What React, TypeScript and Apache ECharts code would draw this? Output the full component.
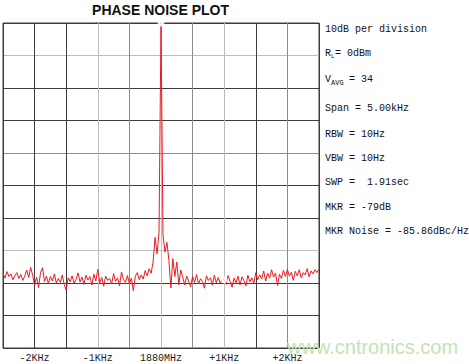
import React, { useEffect, useRef } from "react";
import * as echarts from "echarts";

// Frequency offset axis (kHz) and level axis (dB)
const freqMinKHz = -2.5;
const freqMaxKHz = 2.5;
const levelMinDb = -100;
const levelMaxDb = 0;

const tickValuesKHz = [-2, -1, 0, 1, 2];
const tickLabels = ["-2KHz", "-1KHz", "1880MHz", "+1KHz", "+2KHz"];

// Trace: levels sampled every traceStepKHz from traceStartKHz
const traceStartKHz = -2.5;
const traceStepKHz = 0.03125;
const traceLevelsDb = [
  // 0-15
  -77.0, -78.5, -76.5, -78.0, -77.2, -79.0, -77.8, -76.8, -78.6, -77.4, -79.2, -77.9, -76.0, -78.3, -75.2, -77.6,
  // 16-31
  -80.8, -78.2, -81.4, -76.8, -75.3, -79.5, -77.9, -80.2, -78.0, -79.4, -77.2, -80.0, -78.6, -79.8, -77.5, -80.5,
  // 32-47
  -82.2, -78.4, -79.6, -77.8, -80.1, -78.9, -76.9, -79.7, -78.2, -80.4, -77.6, -79.1, -78.0, -80.6, -77.3, -79.4,
  // 48-63
  -75.8, -79.9, -78.3, -81.0, -77.9, -79.2, -78.6, -80.3, -77.1, -79.5, -78.4, -80.8, -76.6, -78.9, -79.8, -77.7,
  // 64-75
  -80.2, -78.5, -82.4, -77.9, -76.8, -79.0, -77.5, -78.8, -76.2, -77.8, -75.6, -77.0,
  // 76-90 (carrier)
  -73.5, -66.0, -71.0, -64.5, 0, -65.0, -70.5, -67.5, -73.0, -81.5, -72.5, -78.0, -73.5, -80.5, -76.0,
  // 91-111
  -78.2, -80.6, -77.9, -79.4, -81.2, -78.0, -79.8, -77.4, -80.3, -78.7, -79.5, -81.6, -77.8, -79.2, -78.4, -80.7, -77.6, -79.9, -78.3, -80.1, -78.8,
  // 112
  -79.0,
  // 113-127
  -80.4, -77.7, -79.6, -81.3, -78.5, -79.9, -77.9, -80.6, -78.1, -79.3, -80.9, -77.6, -79.7, -78.4, -80.2,
  // 128-143
  -76.8, -79.0, -77.5, -78.8, -76.3, -79.4, -77.0, -78.5, -75.9, -78.2, -76.9, -80.8, -77.3, -78.6, -76.1, -78.0,
  // 144-160
  -75.8, -77.9, -76.7, -79.2, -76.4, -77.8, -75.9, -78.4, -76.8, -77.5, -75.6, -78.1, -76.3, -77.2, -75.9, -76.8, -75.7,
];

// Markers (kHz, dB)
const markerFreqsKHz = [0, 1];
const markerLevelsDb = [0, -79];

// Annotation lines
const titleText = "PHASE NOISE PLOT";
const notePlain = [
  { text: "10dB per division", y: 29.5 },
  { text: "Span = 5.00kHz", y: 108 },
  { text: "RBW = 10Hz", y: 134 },
  { text: "VBW = 10Hz", y: 158.5 },
  { text: "SWP =  1.91sec", y: 182.5 },
  { text: "MKR = -79dB", y: 207 },
  { text: "MKR Noise = -85.86dBc/Hz", y: 231 },
];

const D = "#3c3c3c";
const M = "#8c8c8c";
const L = "#bdbdbd";

export default function App() {
  const ref = useRef<HTMLDivElement>(null);

  useEffect(() => {
    if (!ref.current) return;
    const chart = echarts.init(ref.current, undefined, { renderer: "svg" });

    const traceData = traceLevelsDb.map((v, i) => [traceStartKHz + i * traceStepKHz, v]);
    const markerData = markerFreqsKHz.map((f, i) => [f, markerLevelsDb[i]]);

    const mono = "'Liberation Mono', 'DejaVu Sans Mono', monospace";
    const noteStyle = (text: string, x: number, y: number, size = 10) => ({
      type: "text",
      x,
      y,
      style: {
        text,
        fill: "#111",
        font: `${size}px ${mono}`,
        textAlign: "left",
        textVerticalAlign: "middle",
      },
      z: 100,
    });

    const graphics: any[] = [
      {
        type: "text",
        x: 160.5,
        y: 9.5,
        style: {
          text: titleText,
          fill: "#111",
          font: "bold 14px 'Liberation Sans', Arial, sans-serif",
          textAlign: "center",
          textVerticalAlign: "middle",
        },
        z: 100,
      },
      ...notePlain.map((n) => noteStyle(n.text, 325, n.y)),
      noteStyle("R", 325, 53),
      noteStyle("L", 331, 56, 6),
      noteStyle("= 0dBm", 335, 53),
      noteStyle("V", 325, 79.5),
      noteStyle("AVG", 331, 83, 7),
      noteStyle("= 34", 349, 79.5),
      {
        type: "text",
        x: 287,
        y: 347,
        style: {
          text: "www.cntronics.com",
          fill: "#c4e3b6",
          font: "20px 'Liberation Sans', Arial, sans-serif",
          textAlign: "left",
          textVerticalAlign: "middle",
        },
        z: 200,
      },
    ];

    chart.setOption({
      animation: false,
      backgroundColor: "#ffffff",
      grid: {
        left: 1,
        top: 23,
        width: 318,
        height: 325,
        show: true,
        borderColor: D,
        borderWidth: 1,
        backgroundColor: "transparent",
      },
      xAxis: {
        type: "value",
        min: freqMinKHz,
        max: freqMaxKHz,
        interval: 0.5,
        axisLine: { show: false },
        axisTick: { show: false },
        splitLine: {
          show: true,
          lineStyle: { color: [D, D, D, L, M, L, M, L, D, M, D], width: 1 },
        },
        axisLabel: {
          margin: 5,
          fontFamily: "'Liberation Mono', 'DejaVu Sans Mono', monospace",
          fontSize: 10,
          color: "#222",
          showMinLabel: true,
          showMaxLabel: true,
          formatter: (v: number) => {
            const idx = tickValuesKHz.findIndex((t) => Math.abs(t - v) < 1e-6);
            return idx >= 0 ? tickLabels[idx] : "";
          },
        },
      },
      yAxis: {
        type: "value",
        min: levelMinDb,
        max: levelMaxDb,
        interval: 10,
        axisLine: { show: false },
        axisTick: { show: false },
        axisLabel: { show: false },
        splitLine: {
          show: true,
          lineStyle: { color: [D, D, D, L, D, D, M, D, D, L, D], width: 1 },
        },
      },
      series: [
        {
          type: "line",
          data: traceData,
          showSymbol: false,
          symbol: "none",
          lineStyle: { color: "#ea1a22", width: 1 },
          z: 5,
        },
        {
          type: "scatter",
          data: markerData,
          symbol: "emptyCircle",
          symbolSize: 5,
          itemStyle: { color: "#fff", borderColor: "#22c322", borderWidth: 1.2 },
          z: 6,
        },
      ],
      graphic: graphics,
    });

    return () => chart.dispose();
  }, []);

  return (
    <div
      ref={ref}
      style={{ position: "absolute", left: 0, top: 0, width: 469, height: 364, background: "#fff" }}
    />
  );
}
